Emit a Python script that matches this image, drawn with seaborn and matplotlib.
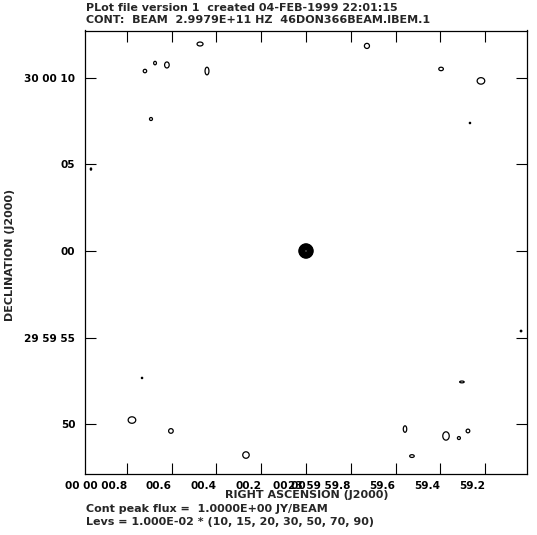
import numpy as np
import matplotlib
matplotlib.use("Agg")
import matplotlib.pyplot as plt
import seaborn as sns

# clean beam contour plot (AIPS style)
# offsets: RA in seconds of time from 00 00 00.0, Dec in arcsec from 30 00 00
isl_ra = [0.0, 0.473, -0.272, 0.621, 0.674, 0.719, 0.442, -0.603, -0.781,
          -0.732, 0.692, 0.960, -0.960, 0.732, 0.777, 0.603, 0.268, -0.696,
          -0.442, -0.625, -0.683, -0.723, -0.473]
isl_dec = [0.0, 11.95, 11.84, 10.74, 10.85, 10.39, 10.39, 10.51, 9.82,
           7.39, 7.62, 4.73, -4.62, -7.33, -9.76, -10.39, -11.78, -7.56,
           -10.28, -10.68, -10.80, -10.39, -11.84]
isl_peak = [1.0] + [0.125] * 22
isl_sx = [0.19, 0.26, 0.22, 0.20, 0.12, 0.15, 0.17, 0.20, 0.33,
          0.06, 0.13, 0.06, 0.07, 0.06, 0.33, 0.20, 0.28, 0.20,
          0.15, 0.28, 0.12, 0.16, 0.20]
isl_sy = [0.19, 0.17, 0.22, 0.26, 0.15, 0.15, 0.33, 0.15, 0.28,
          0.06, 0.13, 0.10, 0.07, 0.06, 0.28, 0.20, 0.28, 0.08,
          0.28, 0.36, 0.12, 0.16, 0.12]

peak_flux = 1.0
lev_unit = 1.0e-2
levs = [10, 15, 20, 30, 50, 70, 90]

xticks = [0.8, 0.6, 0.4, 0.2, 0.0, -0.2, -0.4, -0.6, -0.8]
xtick_labels = ["00 00 00.8", "00.6", "00.4", "00.2", "00 00",
                "23 59 59.8", "59.6", "59.4", "59.2"]
yticks = [10, 5, 0, -5, -10]
ytick_labels = ["30 00 10", "05", "00", "29 59 55", "50"]

sns.set_style("ticks")
plt.rcParams['font.family'] = ['DejaVu Sans']
plt.rcParams['font.weight'] = 'bold'

# map on a grid (RA seconds -> arcsec at dec 30)
sec2as = 15.0 * np.cos(np.radians(30.0))
gx = np.arange(-1.0, 1.0, 0.0015)
gy = np.arange(-13.0, 13.0, 0.02)
X, Y = np.meshgrid(gx, gy)
Z = np.zeros_like(X)
for ra, dec, pk, sx, sy in zip(isl_ra, isl_dec, isl_peak, isl_sx, isl_sy):
    dx = (X - ra) * sec2as
    dy = Y - dec
    Z += pk * np.exp(-0.5 * ((dx / sx) ** 2 + (dy / sy) ** 2))

W, H = 537, 535
fig = plt.figure(figsize=(W / 100, H / 100), dpi=100)
ax = fig.add_axes([85 / W, 1 - 474 / H, 442 / W, 443.5 / H])

ax.contour(X, Y, Z, levels=[l * lev_unit * peak_flux for l in levs],
           colors='black', linewidths=[0.9] + [1.4] * 6)

ax.set_xlim(0.9866, -0.9866)
ax.set_ylim(-12.875, 12.73)
ax.set_xticks(xticks)
ax.set_xticklabels(xtick_labels, ha='right')
ax.set_yticks(yticks)
ax.set_yticklabels(ytick_labels)
ax.tick_params(direction='in', length=8, width=0.8, top=True, right=True,
               labelsize=7.6, colors='black')
ax.tick_params(axis='x', pad=5)
ax.tick_params(axis='y', pad=7)
for s in ax.spines.values():
    s.set_linewidth(0.9)
    s.set_color('black')

fs = 8
fig.text(86 / W, 1 - 8 / H, "PLot file version 1  created 04-FEB-1999 22:01:15",
         fontsize=fs, va='center', ha='left')
fig.text(86 / W, 1 - 20 / H, "CONT:  BEAM  2.9979E+11 HZ  46DON366BEAM.IBEM.1",
         fontsize=fs, va='center', ha='left')
fig.text(307 / W, 1 - 495 / H, "RIGHT ASCENSION (J2000)",
         fontsize=fs, va='center', ha='center')
fig.text(86 / W, 1 - 509 / H, "Cont peak flux =  1.0000E+00 JY/BEAM",
         fontsize=fs, va='center', ha='left')
fig.text(86 / W, 1 - 522 / H,
         "Levs = 1.000E-02 * (" + ", ".join(str(l) for l in levs) + ")",
         fontsize=fs, va='center', ha='left')
fig.text(10 / W, 1 - 255 / H, "DECLINATION (J2000)", rotation=90,
         fontsize=fs, va='center', ha='center')

fig.savefig("out.png", dpi=100, facecolor='white')
